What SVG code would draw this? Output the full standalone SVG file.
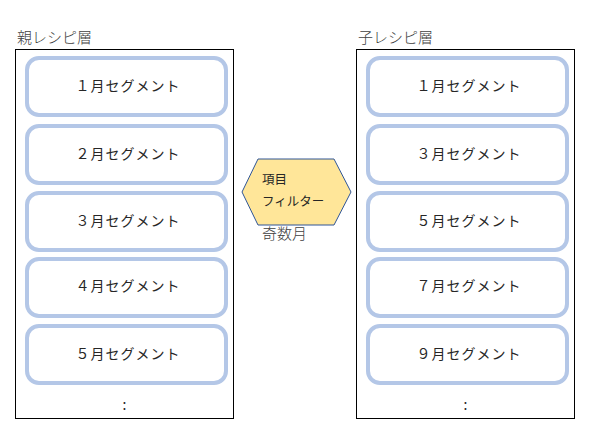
<svg xmlns="http://www.w3.org/2000/svg" width="599" height="445" viewBox="0 0 599 445">
<style>
.ct{fill:#fff;stroke:#000;stroke-width:1}
.seg{fill:#fff;stroke:#b4c7e7;stroke-width:4}
text{font-family:"Noto Sans CJK JP","Noto Sans",sans-serif;fill:#262626}
.st{font-size:14px;text-anchor:middle;letter-spacing:1px}
.tt{font-size:15px;fill:#404040;font-weight:300}
.ht{font-size:12.5px}
</style>
<rect width="599" height="445" fill="#fff"/>
<g id="parent">
<text class="tt" x="17" y="43">親レシピ層</text>
<rect class="ct" x="15.5" y="49.5" width="218" height="369"/>
</g>
<g id="p1"><rect class="seg" x="27" y="58" width="199" height="57" rx="12"/><text class="st" x="128" y="91">１月セグメント</text></g>
<g id="p2"><rect class="seg" x="27" y="126" width="199" height="57" rx="12"/><text class="st" x="128" y="159">２月セグメント</text></g>
<g id="p3"><rect class="seg" x="27" y="193" width="199" height="57" rx="12"/><text class="st" x="128" y="226">３月セグメント</text></g>
<g id="p4"><rect class="seg" x="27" y="259" width="199" height="57" rx="12"/><text class="st" x="128" y="291">４月セグメント</text></g>
<g id="p5"><rect class="seg" x="27" y="326" width="199" height="57" rx="12"/><text class="st" x="128" y="359">５月セグメント</text></g>
<text class="st" x="125" y="410">:</text>
<g id="child">
<text class="tt" x="358" y="43">子レシピ層</text>
<rect class="ct" x="356.5" y="49.5" width="218" height="369"/>
</g>
<g id="c1"><rect class="seg" x="368" y="58" width="199" height="57" rx="12"/><text class="st" x="469" y="91">１月セグメント</text></g>
<g id="c2"><rect class="seg" x="368" y="126" width="199" height="57" rx="12"/><text class="st" x="469" y="159">３月セグメント</text></g>
<g id="c3"><rect class="seg" x="368" y="193" width="199" height="57" rx="12"/><text class="st" x="469" y="226">５月セグメント</text></g>
<g id="c4"><rect class="seg" x="368" y="259" width="199" height="57" rx="12"/><text class="st" x="469" y="291">７月セグメント</text></g>
<g id="c5"><rect class="seg" x="368" y="326" width="199" height="57" rx="12"/><text class="st" x="469" y="359">９月セグメント</text></g>
<text class="st" x="466" y="410">:</text>
<g id="filter">
<polygon points="242,192 258,159 334,159 351,192 334,225 258,225" fill="#ffe699" stroke="#2f5597" stroke-width="1"/>
<text class="ht" x="262" y="184">項目</text>
<text class="ht" x="262" y="206">フィルター</text>
<text class="tt" x="262" y="239">奇数月</text>
</g>
<g id="connectors"></g>
</svg>
